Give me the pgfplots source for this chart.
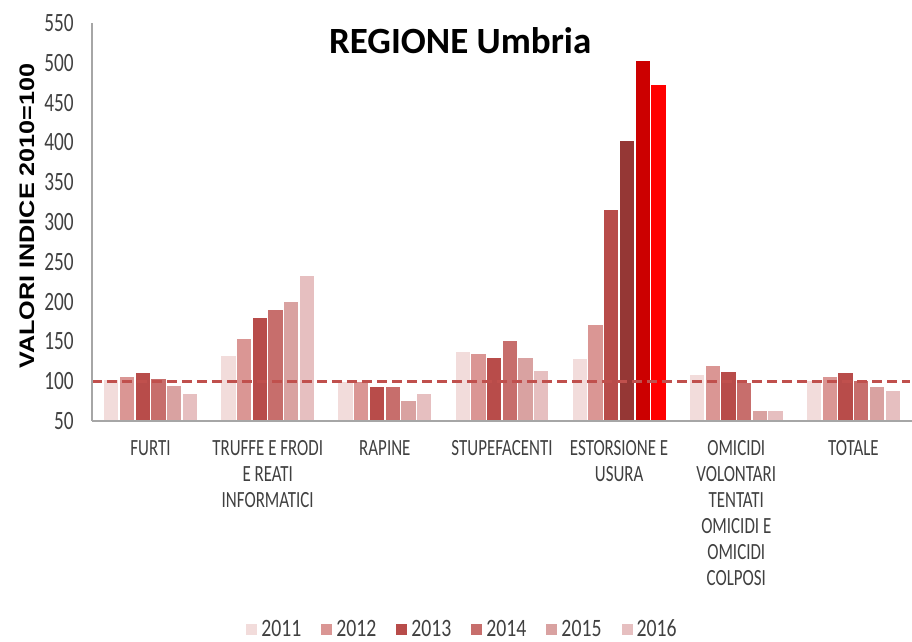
\documentclass[border=0pt]{standalone}
\usepackage{pgfplots}
\pgfplotsset{compat=1.18}
\usepackage{fontspec}
\setmainfont{Carlito}
\newfontfamily\condfont[FakeStretch=0.73]{Carlito}
\newfontfamily\legfont[FakeStretch=0.79]{Carlito}
\newfontfamily\ylabfont[FakeStretch=1.2]{Liberation Sans}
\definecolor{cA}{HTML}{F2DCDB}
\definecolor{cB}{HTML}{DA9694}
\definecolor{cC}{HTML}{B84C4A}
\definecolor{cD}{HTML}{C76E6C}
\definecolor{cE}{HTML}{D9A2A1}
\definecolor{cF}{HTML}{E6BFC0}
\definecolor{eD}{HTML}{953735}
\definecolor{eE}{HTML}{CC0000}
\definecolor{eF}{HTML}{FF0000}
\definecolor{refline}{HTML}{C0504D}
\definecolor{txt}{HTML}{404040}
\begin{document}
\begin{tikzpicture}
\useasboundingbox (-46pt,-110.5pt) rectangle (410pt,210.5pt);
\begin{axis}[
  at={(0,0)}, anchor=south west,
  width=410pt, height=199pt, scale only axis,
  ymin=50, ymax=550, ytick={50,100,...,550},
  xmin=-0.5, xmax=6.5,
  xtick={0,1,2,3,4,5,6},
  xticklabels={FURTI, {TRUFFE E FRODI\\E REATI\\INFORMATICI}, RAPINE, STUPEFACENTI, {ESTORSIONE E\\USURA}, {OMICIDI\\VOLONTARI\\TENTATI\\OMICIDI E\\OMICIDI\\COLPOSI}, TOTALE},
  axis x line*=bottom, axis y line*=left,
  axis line style={black!35, line width=0.6pt},
  axis on top,
  major tick length=0pt,
  /pgf/number format/assume math mode=true,
  yticklabel style={font=\condfont\fontsize{13.2}{14}\selectfont, text=txt, xshift=-5.6pt},
  xticklabel style={font=\condfont\fontsize{11.6}{13}\selectfont, text=txt, align=center, yshift=-6.3pt},
  ylabel={VALORI INDICE 2010=100},
  ylabel style={at={(axis description cs:0,0.5)}, anchor=center, xshift=3pt, yshift=32.5pt, font=\ylabfont\bfseries\fontsize{10.5}{12}\selectfont, text=black},
  ybar, bar width=0.134,
  every axis plot/.append style={draw=white, line width=0.7pt},
  legend columns=6,
  legend style={at={(axis description cs:0.453,-0.525)}, anchor=center, draw=none, fill=none,
    font=\legfont\fontsize{12.5}{14}\selectfont, text=txt,
    /tikz/every even column/.append style={column sep=8pt}},
  legend image code/.code={\fill[#1,draw=none] (0pt,-2.75pt) rectangle (5.5pt,2.75pt);},
]
\addplot[fill=cA, bar shift=-0.335] coordinates {(0,102) (1,132) (2,100) (3,138) (4,129) (5,109) (6,101)};
\addplot[fill=cB, bar shift=-0.201] coordinates {(0,106) (1,154) (2,100) (3,135) (4,172) (5,120) (6,106)};
\addplot[fill=cC, bar shift=-0.067] coordinates {(0,111) (1,180) (2,94) (3,130) (4,316) (5,112) (6,111)};
\addplot[fill=cD, bar shift=0.067] coordinates {(0,104) (1,190) (2,93) (3,151) (5,99) (6,101)};
\addplot[fill=cE, bar shift=0.201] coordinates {(0,95) (1,201) (2,76) (3,130) (5,63) (6,93)};
\addplot[fill=cF, bar shift=0.335] coordinates {(0,85) (1,233) (2,85) (3,114) (5,63) (6,89)};
\legend{2011,2012,2013,2014,2015,2016}
\addplot[forget plot, fill=eD, bar shift=0.067] coordinates {(4,403)};
\addplot[forget plot, fill=eE, bar shift=0.201] coordinates {(4,503)};
\addplot[forget plot, fill=eF, bar shift=0.335] coordinates {(4,473)};
\addplot[forget plot, sharp plot, draw=refline, line width=1.4pt, dash pattern=on 5pt off 2.5pt] coordinates {(-0.5,100) (6.48,100)};
\node[font=\bfseries\fontsize{18.5}{20}\selectfont, anchor=center] at (axis description cs:0.449,0.955) {REGIONE Umbria};
\end{axis}
\end{tikzpicture}
\end{document}
